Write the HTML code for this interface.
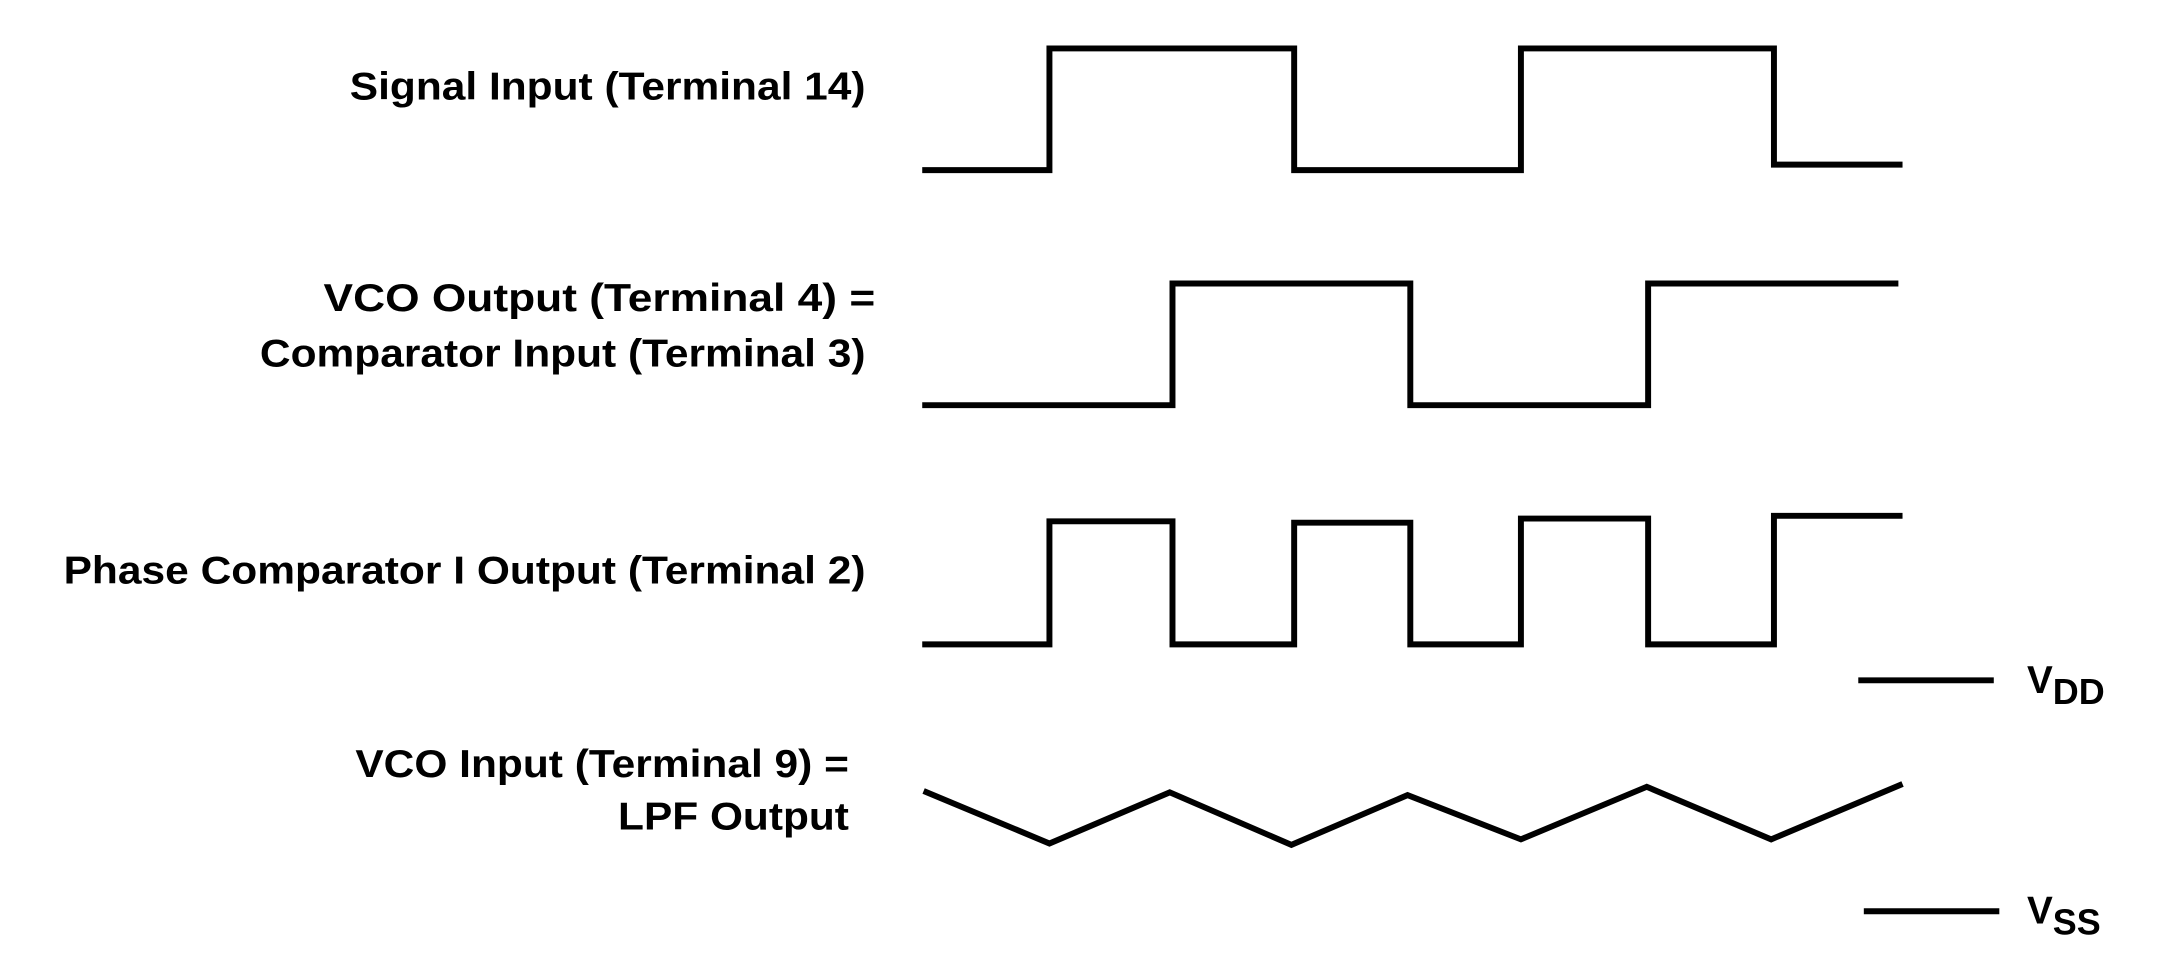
<!DOCTYPE html>
<html><head><style>html,body{margin:0;padding:0;background:#fff}svg{display:block}</style></head>
<body>
<svg width="2168" height="968" viewBox="0 0 1568 700" xmlns="http://www.w3.org/2000/svg">
<g fill="none" stroke="#000" stroke-width="4.3" stroke-linejoin="miter">
<polyline points="667,123 759,123 759,35 936,35 936,123 1100,123 1100,35 1283,35 1283,119 1376,119"/>
<polyline points="667,293 848,293 848,205 1020,205 1020,293 1192,293 1192,205 1373,205"/>
<polyline points="667,466 759,466 759,377 848,377 848,466 936,466 936,378 1020,378 1020,466 1100,466 1100,375 1192,375 1192,466 1283,466 1283,373 1376,373"/>
<polyline points="668,572 759,610 846,573 934,611 1018,575 1100,607 1191,569 1281,607 1376,567"/>
<line x1="1344" y1="492" x2="1442" y2="492"/>
<line x1="1348" y1="659" x2="1446" y2="659"/>
</g>
<g font-family="Liberation Sans, sans-serif" font-weight="bold" font-size="28" fill="#000" lengthAdjust="spacingAndGlyphs">
<text x="253" y="72" textLength="373" lengthAdjust="spacingAndGlyphs">Signal Input (Terminal 14)</text>
<text x="234" y="225" textLength="399" lengthAdjust="spacingAndGlyphs">VCO Output (Terminal 4) =</text>
<text x="188" y="265" textLength="438" lengthAdjust="spacingAndGlyphs">Comparator Input (Terminal 3)</text>
<text x="46" y="422" textLength="580" lengthAdjust="spacingAndGlyphs">Phase Comparator I Output (Terminal 2)</text>
<text x="257" y="562" textLength="357" lengthAdjust="spacingAndGlyphs">VCO Input (Terminal 9) =</text>
<text x="447" y="600" textLength="167" lengthAdjust="spacingAndGlyphs">LPF Output</text>
</g>
<g font-family="Liberation Sans, sans-serif" font-weight="bold" font-size="28" fill="#000">
<text x="1466" y="501">V<tspan font-size="26" dy="8">DD</tspan></text>
<text x="1466" y="668">V<tspan font-size="26" dy="8">SS</tspan></text>
</g>
</svg>
</body></html>
